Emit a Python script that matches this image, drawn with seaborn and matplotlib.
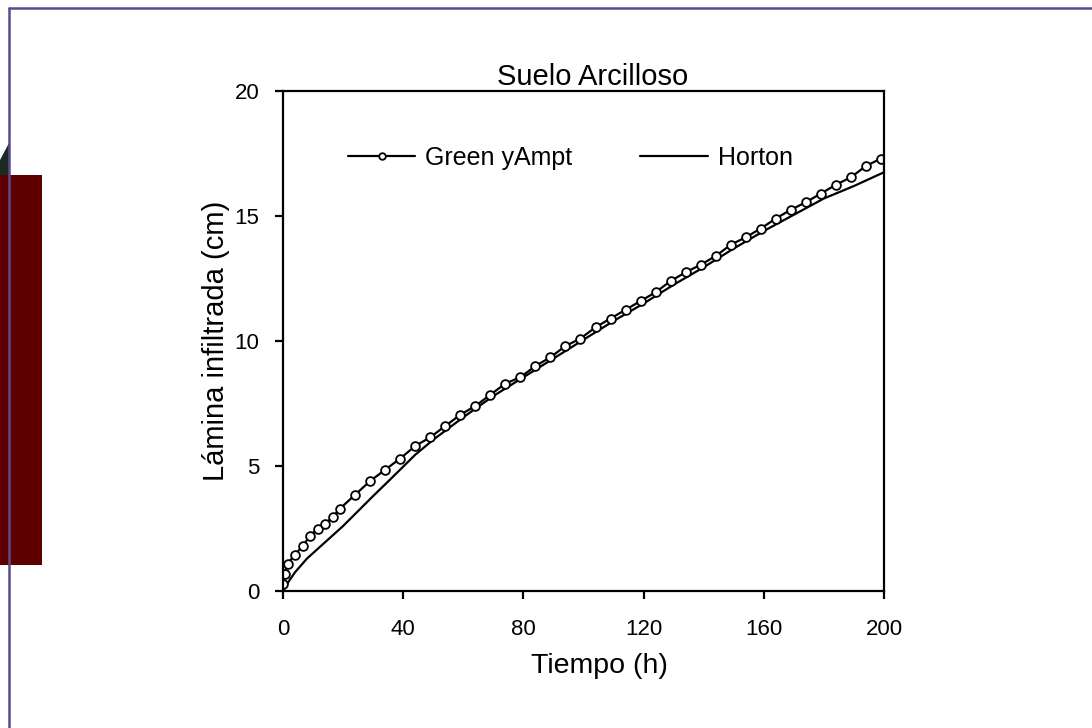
import matplotlib
matplotlib.use("Agg")
import matplotlib.pyplot as plt
from matplotlib.patches import Polygon, Rectangle
from matplotlib.lines import Line2D
import seaborn as sns
import pandas as pd

# ---- data ----
ga_t = [0, 0.5, 1.5, 4, 6.5, 9, 11.5, 14, 16.5, 19, 24, 29, 34, 39, 44, 49, 54, 59,
        64, 69, 74, 79, 84, 89, 94, 99, 104, 109, 114, 119, 124, 129, 134, 139, 144,
        149, 154, 159, 164, 169, 174, 179, 184, 189, 194, 199]
ga_v = [0.3, 0.7, 1.1, 1.45, 1.8, 2.2, 2.5, 2.7, 2.95, 3.3, 3.85, 4.4, 4.85, 5.3, 5.8,
        6.15, 6.6, 7.05, 7.4, 7.85, 8.3, 8.55, 9.0, 9.35, 9.8, 10.1, 10.55, 10.9, 11.25,
        11.6, 11.95, 12.4, 12.75, 13.05, 13.4, 13.85, 14.15, 14.5, 14.9, 15.25, 15.55,
        15.9, 16.25, 16.55, 17.0, 17.3]
hor_t = [0, 2, 4, 8, 14, 20, 25, 30, 36, 44, 50, 60, 70, 80, 90, 100, 110, 120, 130,
         140, 150, 160, 170, 180, 190, 200]
hor_v = [0, 0.4, 0.75, 1.3, 1.95, 2.6, 3.2, 3.8, 4.5, 5.45, 6.05, 6.95, 7.8, 8.55,
         9.3, 10.05, 10.8, 11.5, 12.25, 12.95, 13.7, 14.4, 15.05, 15.7, 16.2, 16.75]
x_ticks = [0, 40, 80, 120, 160, 200]
y_ticks = [0, 5, 10, 15, 20]
series_names = ["Green yAmpt", "Horton"]
title = "Suelo Arcilloso"
x_label = "Tiempo (h)"
y_label = "Lámina infiltrada (cm)"

sns.set_theme(style="ticks")
plt.rcParams["font.family"] = ["Liberation Sans", "DejaVu Sans"]
plt.rcParams["text.color"] = "black"

W, H = 1092, 728
fig = plt.figure(figsize=(W / 100, H / 100), dpi=100)
fig.patch.set_facecolor("white")

# decorative frame elements of the slide
fig.add_artist(Line2D([9 / W, 9 / W], [0, 1 - 8 / H], transform=fig.transFigure,
                      color="#5b4a8f", lw=1.8))
fig.add_artist(Line2D([9 / W, 1], [1 - 8 / H, 1 - 8 / H], transform=fig.transFigure,
                      color="#5b4a8f", lw=1.8))
fig.add_artist(Polygon([(0, 1 - 160 / H), (9 / W, 1 - 143 / H), (9 / W, 1 - 176 / H),
                        (0, 1 - 176 / H)], closed=True, transform=fig.transFigure,
                       facecolor="#1b2b22", edgecolor="none"))
fig.add_artist(Rectangle((0, 1 - 565 / H), 42 / W, 390 / H, transform=fig.transFigure,
                         facecolor="#5e0000", edgecolor="none"))

ax = fig.add_axes([283 / W, 1 - 591 / H, 601 / W, 500 / H])
ax.set_facecolor("white")

df_ga = pd.DataFrame({"t": ga_t, "v": ga_v})
df_h = pd.DataFrame({"t": hor_t, "v": hor_v})

sns.lineplot(data=df_h, x="t", y="v", ax=ax, color="black", lw=1.6,
             label=series_names[1], sort=True)
sns.lineplot(data=df_ga, x="t", y="v", ax=ax, color="black", lw=1.6, marker="o",
             markersize=6.3, markerfacecolor="white", markeredgecolor="black",
             markeredgewidth=1.3, label=series_names[0], sort=True)

ax.set_xlim(0, 200)
ax.set_ylim(0, 20)
ax.set_xticks(x_ticks)
ax.set_yticks(y_ticks)
ax.set_xticklabels([str(v) for v in x_ticks])
ax.set_yticklabels([str(v) for v in y_ticks])
for s in ax.spines.values():
    s.set_visible(True)
    s.set_linewidth(1.6)
    s.set_color("black")
ax.tick_params(axis="both", direction="out", length=6, width=1.6, colors="black",
               labelsize=16)
ax.tick_params(axis="x", pad=14)
ax.tick_params(axis="y", pad=11)

ax.set_title(title, fontsize=21, pad=3, color="black", x=0.515)
ax.set_xlabel(x_label, fontsize=20.5, color="black")
ax.xaxis.set_label_coords(0.526, -0.124)
ax.set_ylabel(y_label, fontsize=21, labelpad=3, color="black")

handles, labels = ax.get_legend_handles_labels()
order = [labels.index(series_names[0]), labels.index(series_names[1])]
leg = ax.legend([handles[i] for i in order], [labels[i] for i in order], ncol=2,
                frameon=False, loc="center left", bbox_to_anchor=(0.108, 0.866),
                borderaxespad=0, borderpad=0, handlelength=2.7, handletextpad=0.4,
                columnspacing=2.7, fontsize=18, markerscale=0.75)
for txt in leg.get_texts():
    txt.set_color("black")

fig.savefig("out.png", dpi=100, facecolor="white")
